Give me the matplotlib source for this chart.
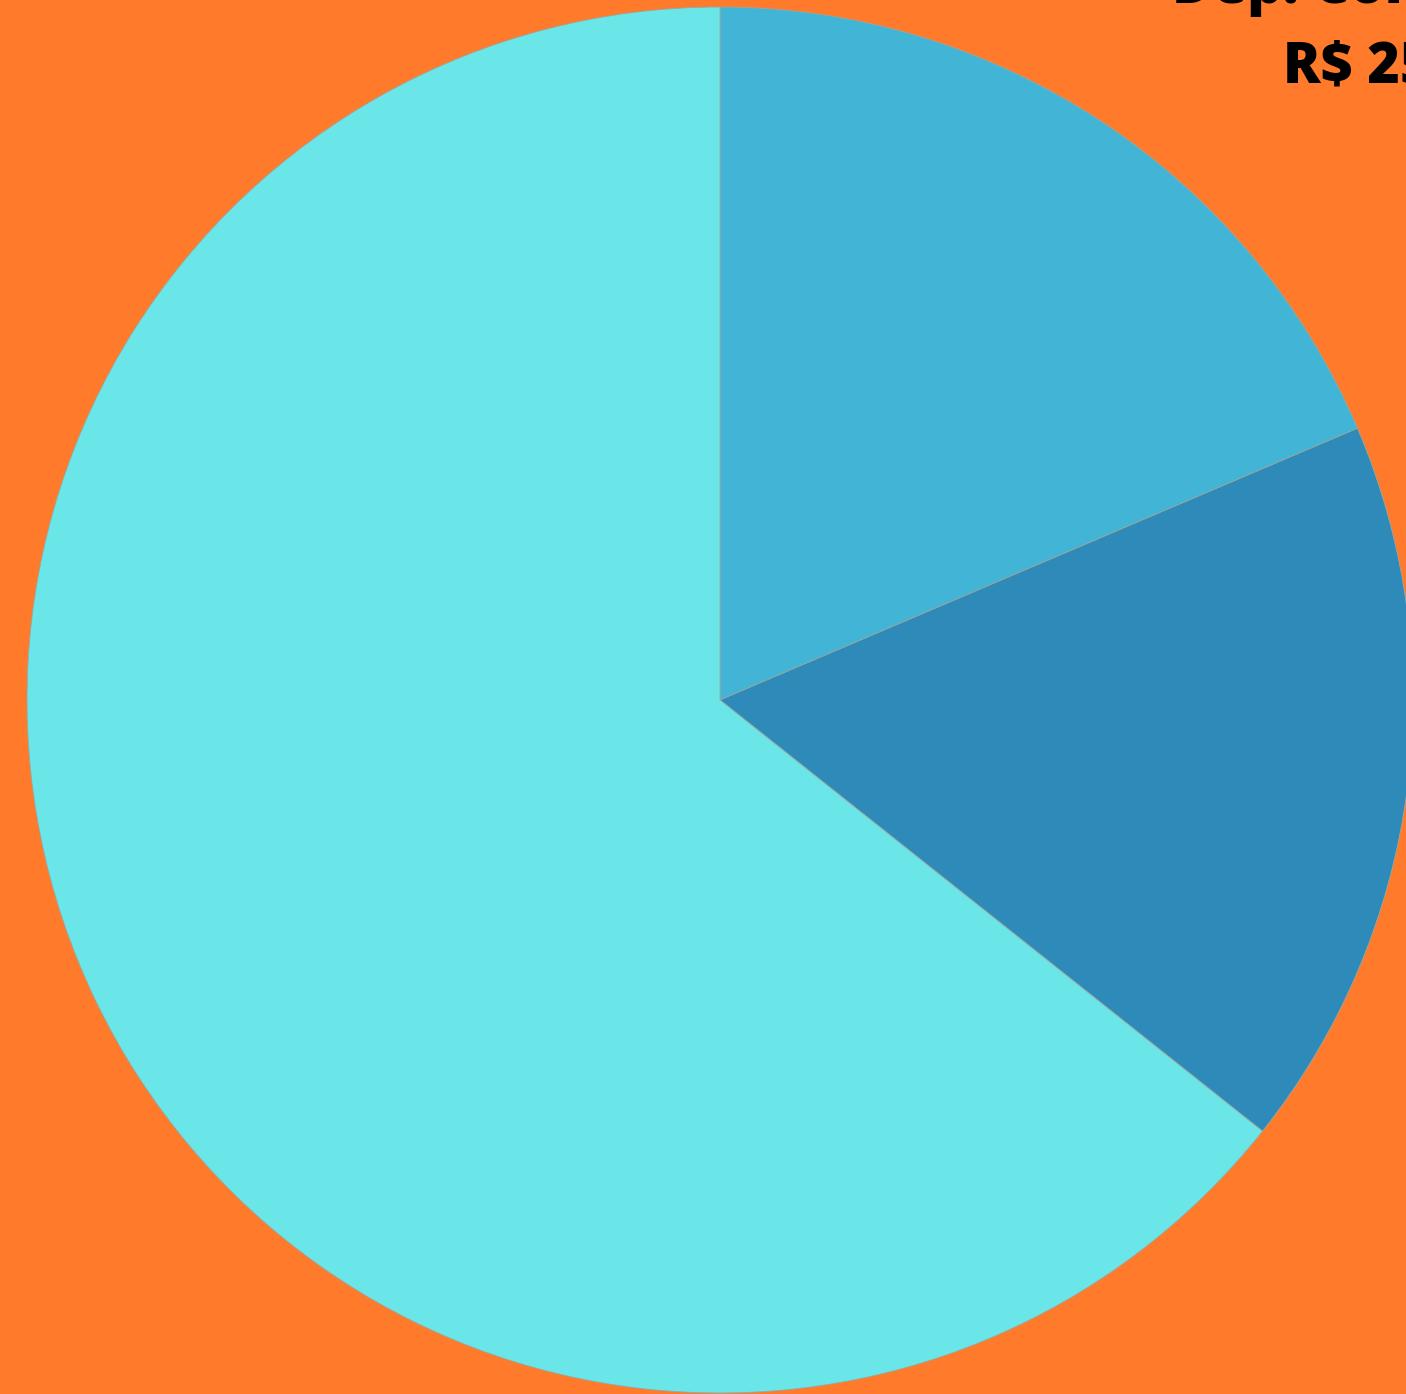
import matplotlib
matplotlib.use("Agg")
import matplotlib.pyplot as plt

labels = ["Dep. Corrente", "Dep. Poupança", "Outros"]
values = [25000, 23000, 86500]
colors = ["#42b4d6", "#2d8ab9", "#6ae5e8"]
value_text = ["R$ 25.000"]

bg = "#ff7a2a"
W, H = 1406, 1394

fig = plt.figure(figsize=(W / 100, H / 100), dpi=100, facecolor=bg)
ax = fig.add_axes([0, 0, 1, 1])
ax.set_facecolor(bg)
ax.set_xlim(0, W)
ax.set_ylim(0, H)
ax.set_aspect("equal")
ax.axis("off")

ax.pie(values, colors=colors, startangle=90, counterclock=False,
       center=(720, H - 700), radius=693,
       wedgeprops=dict(linewidth=0.6, edgecolor="#9aa8a0"))

ax.set_xlim(0, W)
ax.set_ylim(0, H)

# label for the first slice sits partly outside the canvas, as in the original
font = dict(family="Open Sans", fontweight="heavy", fontsize=40, color="black")
ax.text(1172, H - 3, labels[0], ha="left", va="baseline", **font)
ax.text(1283, H - 82, value_text[0], ha="left", va="baseline", **font)

fig.savefig("out.png", dpi=100, facecolor=bg)
